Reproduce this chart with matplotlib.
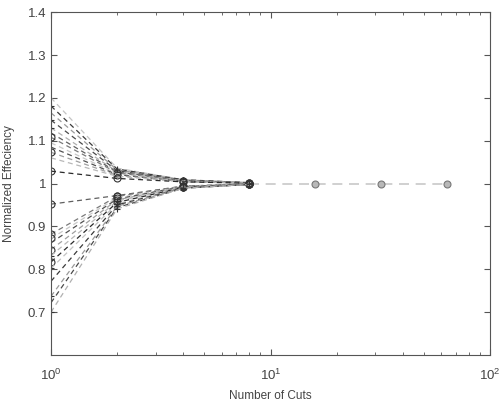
import matplotlib
matplotlib.use('Agg')
import matplotlib.pyplot as plt
from matplotlib.ticker import FixedLocator, LogLocator, NullFormatter

plt.rcParams['font.family'] = ['Liberation Sans', 'DejaVu Sans']

# number of cuts
cuts = [1, 2, 4, 8]
cuts_tail = [8, 16, 32, 64]

# normalized efficiency, lines starting above 1
upper_1 = [1.20, 1.181, 1.165, 1.148, 1.13, 1.118, 1.108, 1.095, 1.085, 1.073, 1.06, 1.029]
upper_2 = [1.036, 1.034, 1.032, 1.030, 1.028, 1.027, 1.025, 1.023, 1.021, 1.019, 1.017, 1.012]
upper_4 = [1.009, 1.009, 1.008, 1.008, 1.007, 1.007, 1.006, 1.006, 1.005, 1.005, 1.004, 1.004]
upper_8 = [1.002, 1.002, 1.002, 1.002, 1.001, 1.001, 1.001, 1.001, 1.001, 1.001, 1.001, 1.001]

# lines starting below 1
lower_1 = [0.952, 0.882, 0.872, 0.862, 0.846, 0.832, 0.817, 0.802, 0.772, 0.737, 0.722, 0.70]
lower_2 = [0.972, 0.970, 0.967, 0.964, 0.962, 0.959, 0.956, 0.953, 0.950, 0.947, 0.944, 0.941]
lower_4 = [0.994, 0.994, 0.993, 0.993, 0.992, 0.992, 0.991, 0.991, 0.990, 0.990, 0.989, 0.989]
lower_8 = [0.999, 0.999, 0.999, 0.999, 0.998, 0.998, 0.998, 0.998, 0.998, 0.998, 0.998, 0.998]

# the light line that keeps going past 8 cuts
tail = [1.0, 1.0, 1.0, 1.0]

grays = ['#c4c4c4', '#3a3a3a', '#9a9a9a', '#4a4a4a', '#b0b0b0', '#606060',
         '#7a7a7a', '#c8c8c8', '#505050', '#a0a0a0', '#b8b8b8', '#2a2a2a']
marks = ['', '+', '', '+', '+', '', 'o', '', '', 'o', '', 'o']
marks_lo = ['o', 'o', 'o', '', 'o', '+', 'o', '+', '', '+', '', '+']

fig = plt.figure(figsize=(5, 4.05), dpi=100)
ax = fig.add_axes([0.102, 0.1235, 0.878, 0.8465])

ax.plot(cuts_tail, tail, linestyle=(0, (6, 4)), color='#c8c8c8', lw=1.2, zorder=1,
        marker='o', ms=5, mfc='#b8b8b8', mec='#777777', mew=0.8, markevery=[1, 2, 3])

for i in range(len(upper_1)):
    vals = [upper_1[i], upper_2[i], upper_4[i], upper_8[i]]
    ax.plot(cuts, vals, linestyle=(0, (4, 3)), color=grays[i], lw=0.9, zorder=2,
            marker=marks[i] if marks[i] else 'None', ms=5, mfc='none', mec='#333333', mew=0.8)
for i in range(len(lower_1)):
    vals = [lower_1[i], lower_2[i], lower_4[i], lower_8[i]]
    ax.plot(cuts, vals, linestyle=(0, (4, 3)), color=grays[(i + 5) % 12], lw=0.9, zorder=2,
            marker=marks_lo[i] if marks_lo[i] else 'None', ms=5, mfc='none', mec='#333333', mew=0.8)

ax.set_xscale('log')
ax.set_xlim(1, 100)
ax.set_ylim(0.6, 1.4)
ax.yaxis.set_major_locator(FixedLocator([0.7, 0.8, 0.9, 1.0, 1.1, 1.2, 1.3, 1.4]))
ax.set_yticklabels(['0.7', '0.8', '0.9', '1', '1.1', '1.2', '1.3', '1.4'])
ax.xaxis.set_minor_locator(LogLocator(base=10, subs=range(2, 10)))
ax.xaxis.set_minor_formatter(NullFormatter())

ax.tick_params(which='both', direction='in', top=True, right=True, colors='#555555',
               labelsize=9.5, labelcolor='#444444')
ax.tick_params(which='major', length=4)
ax.tick_params(which='minor', length=2)
ax.tick_params(axis='x', which='major', pad=9)
for s in ax.spines.values():
    s.set_color('#555555')

ax.set_xlabel('Number of Cuts', fontsize=8.5, color='#444444', labelpad=5)
ax.set_ylabel('Normalized Effeciency', fontsize=8.5, color='#444444', labelpad=9)

fig.savefig('out.png', dpi=100)
